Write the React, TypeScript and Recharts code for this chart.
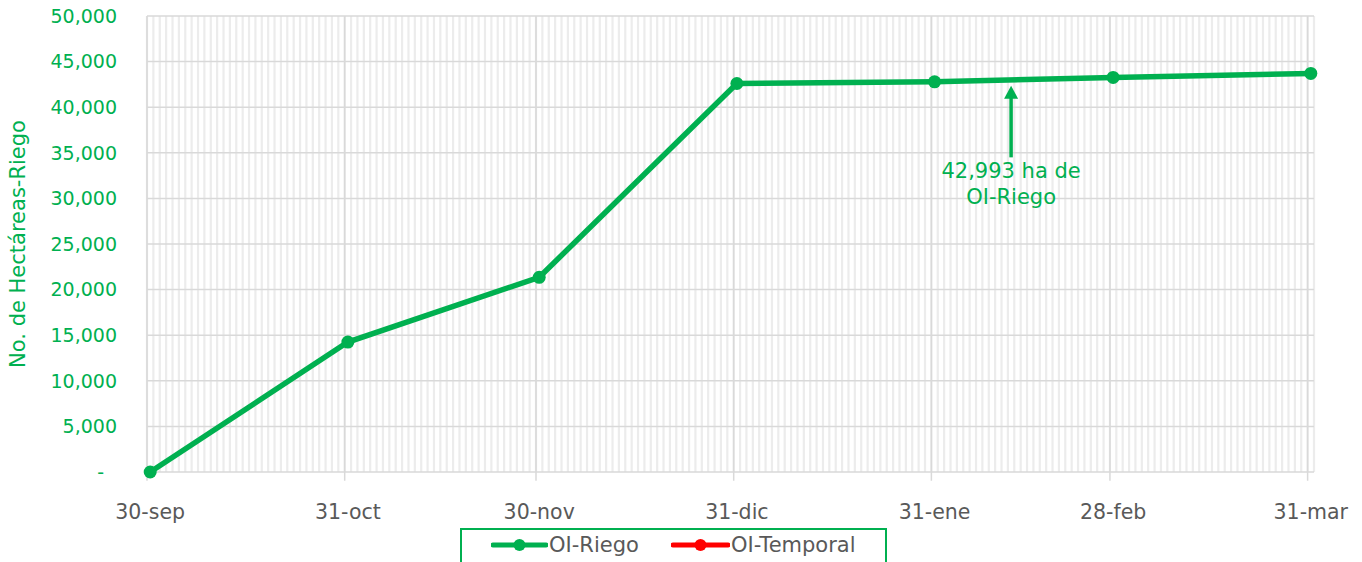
import React from "react";
import { LineChart, Line, XAxis, YAxis, ReferenceLine } from "recharts";

// ─── Data ────────────────────────────────────────────────────────────────────

// days counted from 30-sep
const dayOffsets = [0, 31, 61, 92, 123, 151, 182];
const dateLabels = ["30-sep", "31-oct", "30-nov", "31-dic", "31-ene", "28-feb", "31-mar"];
const riegoHa = [0, 14250, 21350, 42600, 42780, 43260, 43700];
const temporalHa: (number | null)[] = [null, null, null, null, null, null, null];

const yTicks = [0, 5000, 10000, 15000, 20000, 25000, 30000, 35000, 40000, 45000, 50000];
// month boundaries (Excel date axis puts gridlines between day slots)
const monthBoundaries = [-0.5, 30.5, 60.5, 91.5, 122.5, 150.5, 181.5];
const totalDays = 183;

const noteDay = 135;
const noteFrom = 34500;
const noteTo = 42350;
const noteLines = ["42,993 ha de", "OI-Riego"];

const GREEN = "#00B050";
const RED = "#FF0000";
const GREY_TEXT = "#595959";
const FONT = "'DejaVu Sans', sans-serif";

const data = dayOffsets.map((d, i) => ({
  day: d,
  riego: riegoHa[i],
  temporal: temporalHa[i],
}));

const dayBoundaries = Array.from({ length: totalDays + 1 }, (_, k) => k - 0.5);

function fmtTick(v: number): string {
  if (v === 0) return "-";
  return v.toLocaleString("en-US");
}

function YTick({ x, y, payload }: any) {
  const isZero = payload.value === 0;
  return (
    <text
      x={x}
      y={y}
      dx={isZero ? -13 : 0}
      dy="0.36em"
      textAnchor="end"
      fill={GREEN}
      fontSize={19}
      fontFamily={FONT}
    >
      {fmtTick(payload.value)}
    </text>
  );
}

function XTick({ x, y, payload }: any) {
  const i = dayOffsets.indexOf(payload.value);
  return (
    <text x={x} y={y} dy="0.71em" textAnchor="middle" fill={GREY_TEXT} fontSize={20.5} fontFamily={FONT}>
      {i >= 0 ? dateLabels[i] : ""}
    </text>
  );
}

function YLabel({ viewBox }: any) {
  const cx = viewBox.x + 18;
  const cy = viewBox.y + viewBox.height / 2;
  return (
    <text
      x={cx}
      y={cy}
      transform={`rotate(-90 ${cx} ${cy})`}
      textAnchor="middle"
      dominantBaseline="central"
      fill={GREEN}
      fontSize={21}
      fontFamily={FONT}
    >
      No. de Hectáreas-Riego
    </text>
  );
}

// arrow pointing up at the line, text under it
function NoteArrow(props: any) {
  const { x1, y1, x2, y2 } = props;
  const top = Math.min(y1, y2);
  const bottom = Math.max(y1, y2);
  const x = x1;
  return (
    <g>
      <line x1={x} y1={bottom} x2={x} y2={top + 12} stroke={GREEN} strokeWidth={3.5} />
      <polygon points={`${x - 7},${top + 13} ${x + 7},${top + 13} ${x},${top}`} fill={GREEN} />
      {noteLines.map((t, i) => (
        <text
          key={t}
          x={x}
          y={bottom + 21 + i * 26}
          textAnchor="middle"
          fill={GREEN}
          fontSize={21}
          fontFamily={FONT}
        >
          {t}
        </text>
      ))}
    </g>
  );
}

// ─── Legend ──────────────────────────────────────────────────────────────────

function LegendMark({ color, width }: { color: string; width: number }) {
  return (
    <svg width={width} height={14} style={{ display: "block" }}>
      <line x1={2} y1={7} x2={width - 2} y2={7} stroke={color} strokeWidth={5} strokeLinecap="round" />
      <circle cx={width / 2} cy={7} r={6} fill={color} />
    </svg>
  );
}

function ChartLegend() {
  const items = [
    { name: "OI-Riego", color: GREEN, left: 29, markW: 57 },
    { name: "OI-Temporal", color: RED, left: 209, markW: 59 },
  ];
  return (
    <div
      style={{
        position: "absolute",
        left: 460,
        top: 528,
        width: 427,
        height: 44,
        boxSizing: "border-box",
        border: `2px solid ${GREEN}`,
        fontFamily: FONT,
        fontSize: 21,
        color: GREY_TEXT,
      }}
    >
      {items.map((it) => (
        <div
          key={it.name}
          style={{
            position: "absolute",
            left: it.left,
            top: 3,
            display: "flex",
            alignItems: "center",
            whiteSpace: "nowrap",
          }}
        >
          <LegendMark color={it.color} width={it.markW} />
          <span style={{ marginLeft: 1 }}>{it.name}</span>
        </div>
      ))}
    </div>
  );
}

// ─── Main ────────────────────────────────────────────────────────────────────

export default function App() {
  return (
    <div style={{ position: "absolute", left: 0, top: 0, width: 1362, height: 562, background: "#fff", overflow: "hidden" }}>
      <LineChart width={1362} height={562} data={data} margin={{ top: 16, right: 48, left: 0, bottom: 0 }}>
        <XAxis
          dataKey="day"
          type="number"
          domain={[-0.5, totalDays - 0.5]}
          ticks={dayOffsets}
          interval={0}
          height={90}
          axisLine={false}
          tickLine={false}
          tickMargin={26}
          tick={<XTick />}
        />
        <YAxis
          type="number"
          domain={[0, 50000]}
          ticks={yTicks}
          interval={0}
          width={147}
          axisLine={false}
          tickLine={false}
          tickMargin={24}
          tick={<YTick />}
          label={<YLabel />}
        />

        {/* daily minor gridlines */}
        {dayBoundaries.map((b) => (
          <ReferenceLine key={`d${b}`} x={b} stroke="#ececec" strokeWidth={2.2} ifOverflow="visible" />
        ))}
        {/* horizontal gridlines */}
        {yTicks.map((v) => (
          <ReferenceLine key={`h${v}`} y={v} stroke="#d9d9d9" strokeWidth={1.5} ifOverflow="visible" />
        ))}
        {/* month gridlines, running a little below the axis as tick marks */}
        {monthBoundaries.map((b) => (
          <ReferenceLine
            key={`m${b}`}
            segment={[
              { x: b, y: -950 },
              { x: b, y: 50000 },
            ]}
            stroke="#d9d9d9"
            strokeWidth={1.5}
            ifOverflow="visible"
          />
        ))}

        <Line
          type="linear"
          dataKey="riego"
          name="OI-Riego"
          stroke={GREEN}
          strokeWidth={5.5}
          dot={{ r: 6.5, fill: GREEN, stroke: GREEN, strokeWidth: 0 }}
          activeDot={false}
          isAnimationActive={false}
        />
        <Line
          type="linear"
          dataKey="temporal"
          name="OI-Temporal"
          stroke={RED}
          strokeWidth={5.5}
          dot={{ r: 6.5, fill: RED, strokeWidth: 0 }}
          activeDot={false}
          isAnimationActive={false}
        />

        <ReferenceLine
          segment={[
            { x: noteDay, y: noteFrom },
            { x: noteDay, y: noteTo },
          ]}
          shape={<NoteArrow />}
          ifOverflow="visible"
        />
      </LineChart>
      <ChartLegend />
    </div>
  );
}
